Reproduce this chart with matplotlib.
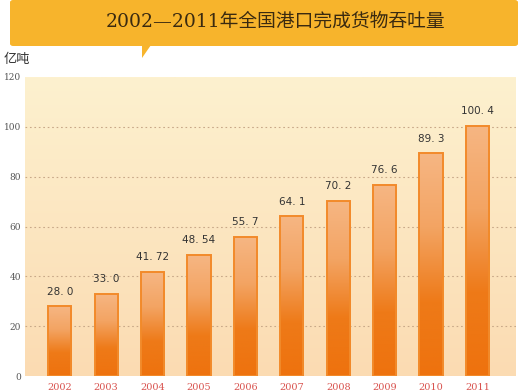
import numpy as np
import matplotlib.pyplot as plt
from matplotlib.patches import FancyBboxPatch, Polygon
from matplotlib.colors import LinearSegmentedColormap

years = ['2002', '2003', '2004', '2005', '2006', '2007', '2008', '2009', '2010', '2011']
values = [28.0, 33.0, 41.72, 48.54, 55.7, 64.1, 70.2, 76.6, 89.3, 100.4]
labels = ['28. 0', '33. 0', '41. 72', '48. 54', '55. 7', '64. 1', '70. 2', '76. 6', '89. 3', '100. 4']
yticks = [0, 20, 40, 60, 80, 100, 120]

cjk = ['DejaVu Serif', 'Noto Sans CJK SC']

fig = plt.figure(figsize=(5.2, 3.91), dpi=100)

# title banner with pointer
W, H = 520, 391
banner = FancyBboxPatch((10 / W, 1 - 46 / H), 508 / W, 46 / H,
                        boxstyle='round,pad=0,rounding_size=0.006',
                        transform=fig.transFigure, facecolor='#F7B42C',
                        edgecolor='none')
fig.patches.append(banner)
pointer = Polygon([(142 / W, 1 - 45 / H), (151 / W, 1 - 45 / H), (142 / W, 1 - 58 / H)],
                  closed=True, transform=fig.transFigure, facecolor='#F7B42C',
                  edgecolor='none')
fig.patches.append(pointer)
fig.text(0.529, 1 - 22 / H, '2002—2011年全国港口完成货物吞吐量', family=cjk,
         fontsize=13.5, color='#3a2a10', ha='center', va='center')
fig.text(4 / W, 1 - 60 / H, '亿吨', family=['Noto Sans CJK SC'], fontsize=9.5,
         color='#333333', ha='left', va='center')

ax = fig.add_axes([25 / W, 1 - 376 / H, 491 / W, 299 / H])
x = np.arange(len(years))
ax.set_xlim(-0.75, 9.83)
ax.set_ylim(0, 120)

# background gradient
bg = LinearSegmentedColormap.from_list('bg', ['#FBDBB2', '#FDF1CF'])
grad = np.linspace(0, 1, 256).reshape(-1, 1)
ax.imshow(grad, cmap=bg, origin='lower', aspect='auto',
          extent=(-0.75, 9.83, 0, 120), zorder=0)

for t in yticks[1:-1]:
    ax.axhline(t, color='#C8A888', linestyle=(0, (1.5, 2.5)), linewidth=0.8, zorder=1)

bars = ax.bar(x, values, width=0.5, facecolor='none', edgecolor='#F28A2A',
              linewidth=1.4, zorder=3)
barcm = LinearSegmentedColormap.from_list('bar', ['#EE720E', '#EE7A18', '#F3A463', '#F6B683'])
for b in bars:
    x0, y0 = b.get_x(), b.get_y()
    im = ax.imshow(grad, cmap=barcm, origin='lower', aspect='auto',
                   extent=(x0, x0 + b.get_width(), y0, y0 + b.get_height()),
                   zorder=2)
    im.set_clip_path(b)

for xi, v, lab in zip(x, values, labels):
    ax.annotate(lab, (xi, v), xytext=(0, 7), textcoords='offset points',
                ha='center', va='bottom', fontsize=7.5,
                color='#333333', family='DejaVu Sans')

ax.set_xticks(x)
ax.set_xticklabels(years, family='DejaVu Serif', fontsize=7, color='#D9534F')
ax.set_yticks(yticks)
ax.set_yticklabels([str(t) for t in yticks], family='DejaVu Serif', fontsize=6.5,
                   color='#555555')
ax.tick_params(axis='x', length=0, pad=5)
ax.tick_params(axis='y', length=0, pad=3)
for s in ax.spines.values():
    s.set_visible(False)

fig.savefig('out.png', dpi=100)
